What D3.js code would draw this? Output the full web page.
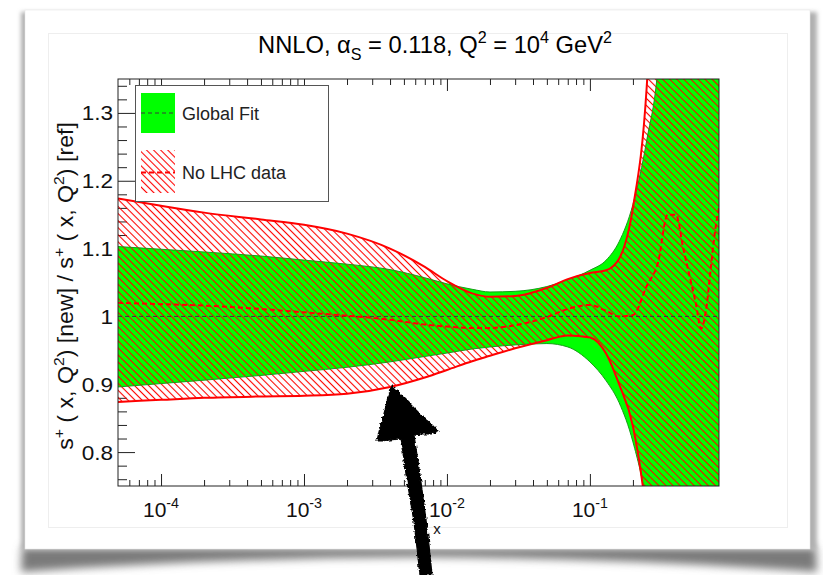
<!DOCTYPE html>
<html>
<head>
<meta charset="utf-8">
<script src="https://cdn.jsdelivr.net/npm/d3@7"></script>
<style>
  html, body { margin: 0; padding: 0; background: #ffffff; }
  svg { display: block; font-family: "Liberation Sans", Arial, Helvetica, sans-serif; }
</style>
</head>
<body>
<svg id="chart" width="823" height="575"></svg>
<script>
// ---- data: ratio of s+ PDFs vs x at Q^2 = 10^4 GeV^2 ----
const xGrid = [5e-5, 1e-4, 2e-4, 5e-4, 1e-3, 2e-3, 4e-3, 7e-3, 1e-2, 1.5e-2, 2e-2, 3e-2, 5e-2, 7e-2,
               0.1, 0.13, 0.16, 0.2, 0.25, 0.3, 0.35, 0.4, 0.45, 0.5, 0.55, 0.6, 0.65, 0.7, 0.75, 0.8];

// Global Fit uncertainty band
const globalUpper = [1.103, 1.099, 1.095, 1.089, 1.083, 1.077, 1.069, 1.057, 1.048, 1.040, 1.036, 1.037, 1.044, 1.054,
                     1.068, 1.083, 1.110, 1.165, 1.260, 1.370, 1.60, 1.80, 2.00, 2.20, 2.40, 2.60, 2.80, 3.00, 3.20, 3.40];
const globalLower = [0.896, 0.901, 0.906, 0.913, 0.919, 0.925, 0.933, 0.941, 0.946, 0.952, 0.955, 0.958, 0.960, 0.955,
                     0.933, 0.905, 0.873, 0.815, 0.720, 0.580, 0.450, 0.350, 0.250, 0.150, 0.050, -0.05, -0.15, -0.25, -0.35, -0.45];
const globalRef = 1.0;

// No LHC data: band and central value
const noLhcUpper = [1.174, 1.163, 1.153, 1.143, 1.135, 1.122, 1.100, 1.073, 1.052, 1.034, 1.029, 1.030, 1.042, 1.055,
                    1.064, 1.068, 1.085, 1.160, 1.340, 1.700, 2.00, 2.30, 2.60, 2.90, 3.20, 3.50, 3.80, 4.10, 4.40, 4.70];
const noLhcLower = [0.874, 0.877, 0.880, 0.882, 0.883, 0.886, 0.896, 0.910, 0.921, 0.934, 0.942, 0.953, 0.965, 0.972,
                    0.969, 0.945, 0.900, 0.838, 0.700, 0.500, 0.350, 0.200, 0.050, -0.10, -0.25, -0.40, -0.55, -0.70, -0.85, -1.00];
const noLhcCentral = [1.020, 1.018, 1.016, 1.011, 1.006, 1.001, 0.995, 0.988, 0.985, 0.983, 0.983, 0.987, 0.999, 1.011,
                      1.017, 1.008, 1.000, 1.002, 1.045, 1.080, 1.150, 1.150, 1.100, 1.058, 1.020, 0.982, 1.010, 1.070, 1.125, 1.160];

// axis ticks
const xMajorTicks = [1e-4, 1e-3, 1e-2, 1e-1];
const xTickExponents = ["-4", "-3", "-2", "-1"];
const yMajorTicks = [0.8, 0.9, 1.0, 1.1, 1.2, 1.3];
const yTickLabels = ["0.8", "0.9", "1", "1.1", "1.2", "1.3"];

const legendLabels = ["Global Fit", "No LHC data"];

// ---- layout ----
const svg = d3.select("#chart");
const plot = { left: 118, right: 719, top: 79, bottom: 486 };
const green = "#00ff00", red = "#ff0000";

const x = d3.scaleLog().domain([5e-5, 0.8]).range([plot.left, plot.right]);
const y = d3.scaleLinear().domain([0.75, 1.35]).range([plot.bottom, plot.top]);

const defs = svg.append("defs");

// blur filters for the page shadow
defs.append("filter").attr("id", "blurBig").attr("x", "-20%").attr("y", "-100%").attr("width", "140%").attr("height", "300%")
  .append("feGaussianBlur").attr("stdDeviation", 4.5);
defs.append("filter").attr("id", "blurSmall").attr("x", "-5%").attr("y", "-5%").attr("width", "110%").attr("height", "110%")
  .append("feGaussianBlur").attr("stdDeviation", 2);

// rough edge for the hand-drawn arrow
const rough = defs.append("filter").attr("id", "rough").attr("x", "-20%").attr("y", "-20%").attr("width", "140%").attr("height", "140%");
rough.append("feTurbulence").attr("type", "fractalNoise").attr("baseFrequency", 0.35).attr("numOctaves", 2).attr("seed", 3).attr("result", "noise");
rough.append("feDisplacementMap").attr("in", "SourceGraphic").attr("in2", "noise").attr("scale", 4)
  .attr("xChannelSelector", "R").attr("yChannelSelector", "G");

// red hatch pattern
const hatch = defs.append("pattern").attr("id", "hatch").attr("patternUnits", "userSpaceOnUse")
  .attr("width", 5).attr("height", 5).attr("patternTransform", "rotate(-45)");
hatch.append("line").attr("x1", 2.5).attr("y1", -1).attr("x2", 2.5).attr("y2", 6)
  .attr("stroke", red).attr("stroke-width", 1.1);

defs.append("clipPath").attr("id", "plotClip").append("rect")
  .attr("x", plot.left).attr("y", plot.top)
  .attr("width", plot.right - plot.left).attr("height", plot.bottom - plot.top);

// ---- page card with shadow ----
svg.append("path")
  .attr("d", "M22,547 L816,547 L817,572 Q620,558 420,557 Q220,558 21,572 Z")
  .attr("fill", "#7a7a7a").attr("filter", "url(#blurBig)");
svg.append("rect").attr("x", 21).attr("y", 12).attr("width", 796).attr("height", 538)
  .attr("fill", "#b0b0b0").attr("filter", "url(#blurSmall)");
svg.append("rect").attr("x", 25).attr("y", 10).attr("width", 785).attr("height", 539)
  .attr("fill", "#ffffff").attr("stroke", "#e6e6e6").attr("stroke-width", 0.6);
svg.append("rect").attr("x", 48.5).attr("y", 33.5).attr("width", 739).attr("height", 494)
  .attr("fill", "none").attr("stroke", "#eeeeee").attr("stroke-width", 1);

// ---- rich text helper (sub/superscripts) ----
function richText(textSel, parts, fontSize) {
  let shift = 0;
  parts.forEach(([str, kind]) => {
    const t = textSel.append("tspan").text(str);
    let target = 0;
    if (kind === "sup") target = -0.42 * fontSize;
    if (kind === "sub") target = 0.28 * fontSize;
    if (target !== shift) { t.attr("dy", target - shift); shift = target; }
    if (kind) t.attr("font-size", fontSize * 0.68);
  });
  return textSel;
}

// ---- axis ticks (drawn under the bands) ----
const axes = svg.append("g").attr("stroke", "#222").attr("stroke-width", 1);

const yMinor = d3.range(0.76, 1.35, 0.02).filter(v => yMajorTicks.every(m => Math.abs(m - v) > 1e-6));
const xMinor = [];
for (let e = -5; e <= -1; e++) for (let k = 2; k <= 9; k++) {
  const v = k * Math.pow(10, e);
  if (v > 5e-5 && v < 0.8) xMinor.push(v);
}

function tickAxis(gen, scale, values, size, transform) {
  const g = axes.append("g").attr("transform", transform)
    .call(gen(scale).tickValues(values).tickSizeInner(-size).tickSizeOuter(0).tickFormat(""));
  g.select(".domain").remove();
  g.selectAll("line").attr("stroke", "#222").attr("stroke-width", 1);
}
tickAxis(d3.axisLeft, y, yMajorTicks, 17, `translate(${plot.left},0)`);
tickAxis(d3.axisLeft, y, yMinor, 9, `translate(${plot.left},0)`);
tickAxis(d3.axisBottom, x, xMajorTicks, 12, `translate(0,${plot.bottom})`);
tickAxis(d3.axisBottom, x, xMinor, 6, `translate(0,${plot.bottom})`);
tickAxis(d3.axisTop, x, xMajorTicks, 12, `translate(0,${plot.top})`);
tickAxis(d3.axisTop, x, xMinor, 6, `translate(0,${plot.top})`);

// ---- bands ----
const rows = xGrid.map((xv, i) => ({
  x: xv, gu: globalUpper[i], gl: globalLower[i],
  ru: noLhcUpper[i], rl: noLhcLower[i], rc: noLhcCentral[i]
}));

const plotG = svg.append("g").attr("clip-path", "url(#plotClip)");
const curve = d3.curveMonotoneX;

const areaG = d3.area().x(d => x(d.x)).y0(d => y(d.gl)).y1(d => y(d.gu)).curve(curve);
const areaR = d3.area().x(d => x(d.x)).y0(d => y(d.rl)).y1(d => y(d.ru)).curve(curve);
const lineOf = key => d3.line().x(d => x(d.x)).y(d => y(d[key])).curve(curve);

plotG.append("path").datum(rows).attr("d", areaG).attr("fill", green);
plotG.append("path").datum(rows).attr("d", areaR).attr("fill", "url(#hatch)");

["gu", "gl"].forEach(k => plotG.append("path").datum(rows).attr("d", lineOf(k))
  .attr("fill", "none").attr("stroke", "#169c16").attr("stroke-width", 1));

// reference line of the Global Fit central value
plotG.append("line")
  .attr("x1", x(xGrid[0])).attr("x2", x(xGrid[xGrid.length - 1]))
  .attr("y1", y(globalRef)).attr("y2", y(globalRef))
  .attr("stroke", "#3a3a3a").attr("stroke-width", 1).attr("stroke-dasharray", "4,3");

["ru", "rl"].forEach(k => plotG.append("path").datum(rows).attr("d", lineOf(k))
  .attr("fill", "none").attr("stroke", red).attr("stroke-width", 2));

plotG.append("path").datum(rows).attr("d", lineOf("rc"))
  .attr("fill", "none").attr("stroke", red).attr("stroke-width", 2).attr("stroke-dasharray", "5,3");

// frame
svg.append("rect").attr("x", plot.left).attr("y", plot.top)
  .attr("width", plot.right - plot.left).attr("height", plot.bottom - plot.top)
  .attr("fill", "none").attr("stroke", "#222").attr("stroke-width", 1);

// ---- tick labels ----
const yLab = svg.append("g").attr("font-size", 20.5).attr("fill", "#111");
yMajorTicks.forEach((v, i) => {
  yLab.append("g").attr("transform", `translate(${plot.left - 5},${y(v) + 7.5}) scale(1.1,1)`)
    .append("text").attr("text-anchor", "end").text(yTickLabels[i]);
});

const xLab = svg.append("g").attr("fill", "#111");
xMajorTicks.forEach((v, i) => {
  const t = xLab.append("g").attr("transform", `translate(${x(v)},517)`)
    .append("text").attr("text-anchor", "middle").attr("font-size", 21);
  richText(t, [["10", null], [xTickExponents[i], "sup"]], 21);
});

// axis titles
const yTitleG = svg.append("g").attr("transform", "translate(73,286) rotate(-90)");
const yTitle = yTitleG.append("text").attr("text-anchor", "middle").attr("font-size", 20).attr("fill", "#111");
richText(yTitle, [["s", null], ["+", "sup"], [" ( x, Q", null], ["2", "sup"], [") [new] / s", null], ["+", "sup"],
                  [" ( x, Q", null], ["2", "sup"], [") [ref]", null]], 20);
{
  const w = yTitle.node().getBBox().width;
  yTitleG.attr("transform", `translate(73,286) rotate(-90) scale(${328 / w},1.08)`);
}

// title
const titleG = svg.append("g").attr("transform", "translate(435,53)");
const title = titleG.append("text").attr("text-anchor", "middle").attr("font-size", 24).attr("fill", "#000");
richText(title, [["NNLO, \u03b1", null], ["S", "sub"], [" = 0.118, Q", null], ["2", "sup"], [" = 10", null], ["4", "sup"],
                 [" GeV", null], ["2", "sup"]], 24);
{
  const w = title.node().getBBox().width;
  titleG.attr("transform", `translate(435,53) scale(${354 / w},1)`);
}

// ---- legend ----
const leg = svg.append("g");
leg.append("rect").attr("x", 135.5).attr("y", 85.5).attr("width", 193).attr("height", 116)
  .attr("fill", "#ffffff").attr("stroke", "#555").attr("stroke-width", 1);
leg.append("rect").attr("x", 141).attr("y", 93).attr("width", 34).attr("height", 40).attr("fill", green);
leg.append("line").attr("x1", 141).attr("x2", 175).attr("y1", 113).attr("y2", 113)
  .attr("stroke", "#3a3a3a").attr("stroke-width", 1).attr("stroke-dasharray", "4,3");
leg.append("rect").attr("x", 141).attr("y", 150).attr("width", 34).attr("height", 43).attr("fill", "url(#hatch)");
leg.append("line").attr("x1", 141).attr("x2", 175).attr("y1", 172.5).attr("y2", 172.5)
  .attr("stroke", red).attr("stroke-width", 2).attr("stroke-dasharray", "5,3");
leg.append("text").attr("x", 182).attr("y", 119.5).attr("font-size", 18).attr("fill", "#222").text(legendLabels[0]);
leg.append("text").attr("x", 182).attr("y", 179).attr("font-size", 18).attr("fill", "#222").text(legendLabels[1]);

// ---- hand-drawn arrow pointing at the lower edge of the No LHC band ----
svg.append("path")
  .attr("d", "M392,386 L399,393 L406,400 L415,409 L425,419 L432,425 L438,431 L431,434 L422,434 L414,435 " +
             "L417,455 L420,475 L423,497 L426,520 L429,545 L432,575 L420,575 L417,548 L414,522 L410,498 " +
             "L406,474 L403,452 L400,439 L390,440 L383,441 L377,441 L379,432 L382,421 L385,410 L388,398 Z")
  .attr("fill", "#000").attr("stroke", "#000").attr("stroke-width", 1.2)
  .attr("filter", "url(#rough)");

// x-axis title, sitting just right of the arrow shaft
svg.append("text").attr("x", 437).attr("y", 534).attr("text-anchor", "middle")
  .attr("font-size", 15).attr("fill", "#111").text("x");
</script>
</body>
</html>
